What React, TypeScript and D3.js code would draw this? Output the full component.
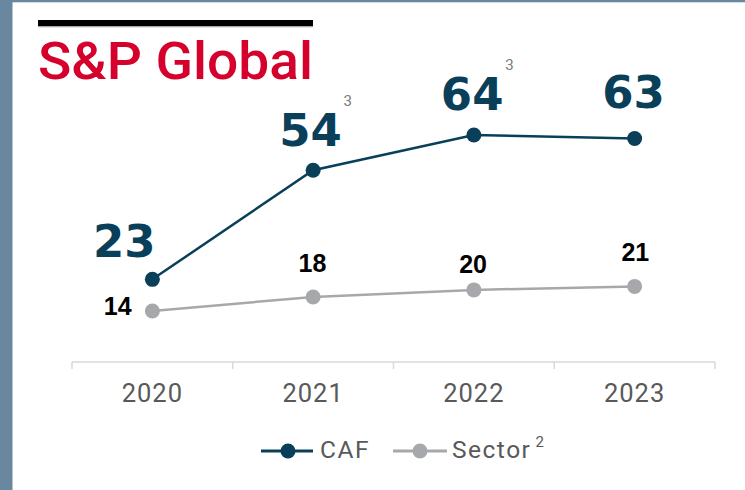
import React from "react";
import * as d3 from "d3";

const years = ["2020", "2021", "2022", "2023"];
const cafValues = [23, 54, 64, 63];
const sectorValues = [14, 18, 20, 21];
const cafNotes = ["", "3", "3", ""];
const legendLabels = ["CAF", "Sector"];
const legendNotes = ["", "2"];

// layout constants
const W = 745;
const H = 490;
const cafLabelOffset = [[-28, -22.6], [-2.6, -24.3], [-1.7, -25], [-1, -30.6]];
const sectorLabelOffset = [[-34.7, 4], [-0.6, -24.6], [-0.8, -17.3], [0.7, -25.6]];

const CAF_COLOR = "#0a3f5a";
const SECTOR_COLOR = "#a6a8ac";
const TEXT_GREY = "#595959";

export default function App() {
  const x = d3.scaleBand<string>().domain(years).range([72, 715]).padding(0);
  const cx = (d: string) => (x(d) as number) + x.bandwidth() / 2;
  const y = d3.scaleLinear().domain([0, 70]).range([360.3, 360.3 - 70 * 3.52]);

  const line = d3
    .line<number>()
    .x((_, i) => cx(years[i]))
    .y((v) => y(v));

  const edges = [...years.map((d) => x(d) as number), 715];
  const axisY = 362;

  return (
    <svg
      width={W}
      height={H}
      style={{ position: "absolute", left: 0, top: 0, background: "#fff" }}
    >
      <rect x={0} y={0} width={W} height={H} fill="#fff" />
      {/* frame */}
      <rect x={0} y={0} width={12.5} height={H} fill="#6a87a0" />
      <rect x={0} y={0} width={W} height={2.3} fill="#6a87a0" />

      {/* logo */}
      <rect x={38} y={20} width={275} height={6.5} fill="#000" />
      <rect x={38} y={26.5} width={275} height={1} fill="#d0d0d0" />
      <text
        x={38}
        y={79.3}
        fontFamily="Roboto"
        fontWeight={500}
        fontSize={51}
        fill="#d5002b"
        textLength={275}
        lengthAdjust="spacingAndGlyphs"
      >
        S&amp;P Global
      </text>

      {/* axis */}
      <line x1={72} x2={715} y1={axisY} y2={axisY} stroke="#d9d9d9" strokeWidth={1.5} />
      {edges.map((e, i) => (
        <line key={i} x1={e} x2={e} y1={axisY} y2={369} stroke="#d9d9d9" strokeWidth={1.5} />
      ))}
      {years.map((d) => (
        <text
          key={d}
          x={cx(d)}
          y={402}
          textAnchor="middle"
          fontFamily="Roboto"
          fontSize={25.5}
          letterSpacing={1}
          fill={TEXT_GREY}
        >
          {d}
        </text>
      ))}

      {/* lines */}
      <path d={line(sectorValues) || ""} fill="none" stroke={SECTOR_COLOR} strokeWidth={2.5} />
      <path d={line(cafValues) || ""} fill="none" stroke={CAF_COLOR} strokeWidth={2.5} />
      {sectorValues.map((v, i) => (
        <circle key={"s" + i} cx={cx(years[i])} cy={y(v)} r={7.5} fill={SECTOR_COLOR} />
      ))}
      {cafValues.map((v, i) => (
        <circle key={"c" + i} cx={cx(years[i])} cy={y(v)} r={7.5} fill={CAF_COLOR} />
      ))}

      {/* labels */}
      {cafValues.map((v, i) => {
        const lx = cx(years[i]) + cafLabelOffset[i][0];
        const ly = y(v) + cafLabelOffset[i][1];
        return (
          <g key={"cl" + i}>
            <text
              x={lx}
              y={ly}
              textAnchor="middle"
              fontFamily="DejaVu Sans"
              fontWeight={700}
              fontSize={45}
              fill={CAF_COLOR}
            >
              {v}
            </text>
            {cafNotes[i] && (
              <text x={lx + 33} y={ly - 40} fontFamily="Roboto" fontSize={15} fill="#7a7a7a">
                {cafNotes[i]}
              </text>
            )}
          </g>
        );
      })}
      {sectorValues.map((v, i) => (
        <text
          key={"sl" + i}
          x={cx(years[i]) + sectorLabelOffset[i][0]}
          y={y(v) + sectorLabelOffset[i][1]}
          textAnchor="middle"
          fontFamily="Liberation Sans"
          fontWeight={700}
          fontSize={25}
          fill="#000"
        >
          {v}
        </text>
      ))}

      {/* legend */}
      <g>
        <line x1={261} x2={313} y1={451} y2={451} stroke={CAF_COLOR} strokeWidth={3} />
        <circle cx={288} cy={451} r={7.5} fill={CAF_COLOR} />
        <text x={320} y={458} fontFamily="Roboto" fontSize={24.5} letterSpacing={1.5} fill={TEXT_GREY}>
          {legendLabels[0]}
        </text>
        <line x1={393} x2={447} y1={451} y2={451} stroke={SECTOR_COLOR} strokeWidth={3} />
        <circle cx={420} cy={451} r={7.5} fill={SECTOR_COLOR} />
        <text x={452} y={458} fontFamily="Roboto" fontSize={24.5} letterSpacing={1.5} fill={TEXT_GREY}>
          {legendLabels[1]}
          <tspan dx={4} dy={-11} fontSize={15}>
            {legendNotes[1]}
          </tspan>
        </text>
      </g>
    </svg>
  );
}
